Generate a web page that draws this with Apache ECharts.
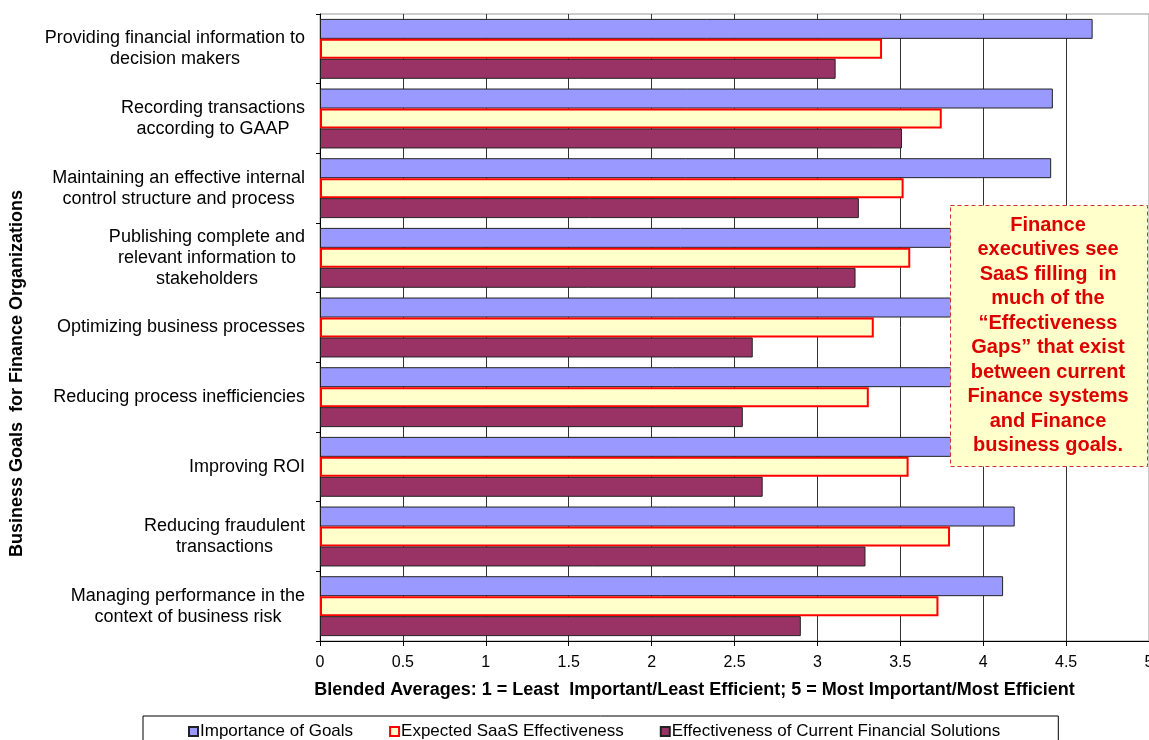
<!DOCTYPE html>
<html>
<head>
<meta charset="utf-8">
<script src="https://cdn.jsdelivr.net/npm/echarts@6/dist/echarts.min.js"></script>
<style>
  html, body { margin: 0; padding: 0; background: #fff; }
  #chart { width: 1149px; height: 740px; }
</style>
</head>
<body>
<div id="chart"></div>
<script>
  const goals = [
    "Providing financial information to\ndecision makers",
    "Recording transactions\naccording to GAAP",
    "Maintaining an effective internal\ncontrol structure and process",
    "Publishing complete and\nrelevant information to\nstakeholders",
    "Optimizing business processes",
    "Reducing process inefficiencies",
    "Improving ROI",
    "Reducing fraudulent\ntransactions",
    "Managing performance in the\ncontext of business risk"
  ];
  const importance = [4.66, 4.42, 4.41, 4.35, 4.3, 4.25, 4.32, 4.19, 4.12];
  const expectedSaaS = [3.39, 3.75, 3.52, 3.56, 3.34, 3.31, 3.55, 3.8, 3.73];
  const currentSolutions = [3.11, 3.51, 3.25, 3.23, 2.61, 2.55, 2.67, 3.29, 2.9];
  const seriesNames = ["Importance of Goals", "Expected SaaS Effectiveness", "Effectiveness of Current Financial Solutions"];
  const calloutLines = [
    "Finance", "executives see", "SaaS filling  in", "much of the", "\u201cEffectiveness",
    "Gaps\u201d that exist", "between current", "Finance systems", "and Finance", "business goals."
  ];

  const font = "'Liberation Sans', Arial, sans-serif";

  var myChart = echarts.init(document.getElementById("chart"));
  myChart.setOption({
    animation: false,
    grid: {
      left: 320,
      top: 14,
      right: 0,
      bottom: 99,
      outerBoundsMode: "none",
      show: true,
      borderColor: "#999",
      borderWidth: 1
    },
    legend: {
      data: seriesNames,
      left: 143,
      top: 716,
      padding: [7, 58, 4, 45],
      itemGap: 36,
      itemWidth: 9,
      itemHeight: 9,
      borderColor: "#000",
      borderWidth: 1,
      icon: "rect",
      textStyle: { fontFamily: font, fontSize: 17, color: "#000", padding: [0, 0, 0, -3] }
    },
    xAxis: {
      type: "value",
      min: 0,
      max: 5,
      interval: 0.5,
      name: "Blended Averages: 1 = Least  Important/Least Efficient; 5 = Most Important/Most Efficient",
      nameLocation: "middle",
      nameGap: 40,
      nameTextStyle: {
        fontFamily: font, fontWeight: "bold", fontSize: 18, color: "#000",
        padding: [0, 80, 0, 0]
      },
      axisLine: { show: true, lineStyle: { color: "#000", width: 1 } },
      axisTick: { show: true, length: 5, lineStyle: { color: "#000" } },
      axisLabel: { fontFamily: font, fontSize: 16, color: "#000", margin: 14 },
      splitLine: { show: true, lineStyle: { color: "#333", width: 1 } }
    },
    yAxis: {
      type: "category",
      data: goals,
      inverse: true,
      name: "Business Goals  for Finance Organizations",
      nameLocation: "middle",
      nameGap: 294,
      nameTextStyle: {
        fontFamily: font, fontWeight: "bold", fontSize: 18, color: "#000",
        padding: [0, 92, 0, 0]
      },
      axisLine: { show: true, lineStyle: { color: "#000", width: 1 } },
      axisTick: { show: true, length: 4, lineStyle: { color: "#000" } },
      axisLabel: {
        margin: 15,
        align: "right",
        formatter: v => v.split("\n").map(s => "{c|" + s + "}").join("\n"),
        rich: {
          c: { align: "center", fontFamily: font, fontSize: 18, lineHeight: 21, color: "#000" }
        }
      }
    },
    series: [
      {
        name: seriesNames[0],
        type: "bar",
        data: importance,
        barGap: "0%",
        barCategoryGap: "14%",
        itemStyle: { color: "#9999ff", borderColor: "#222", borderWidth: 1 }
      },
      {
        name: seriesNames[1],
        type: "bar",
        data: expectedSaaS,
        barGap: "0%",
        barCategoryGap: "14%",
        itemStyle: { color: "#ffffcc", borderColor: "#ff0000", borderWidth: 2 }
      },
      {
        name: seriesNames[2],
        type: "bar",
        data: currentSolutions,
        barGap: "0%",
        barCategoryGap: "14%",
        itemStyle: { color: "#993366", borderColor: "#222", borderWidth: 1 }
      }
    ],
    graphic: [
      {
        type: "rect",
        z: 100,
        shape: { x: 950.5, y: 205.5, width: 197, height: 261 },
        style: { fill: "#ffffcc", stroke: "#cc3333", lineWidth: 1, lineDash: [4, 3] }
      },
      {
        type: "text",
        z: 101,
        x: 1048,
        y: 213,
        style: {
          text: calloutLines.join("\n"),
          align: "center",
          verticalAlign: "top",
          fill: "#dd0000",
          font: "bold 20px " + font,
          lineHeight: 24.5
        }
      }
    ]
  });

  window.addEventListener("resize", () => {
    myChart.resize();
  });
</script>
</body>
</html>
